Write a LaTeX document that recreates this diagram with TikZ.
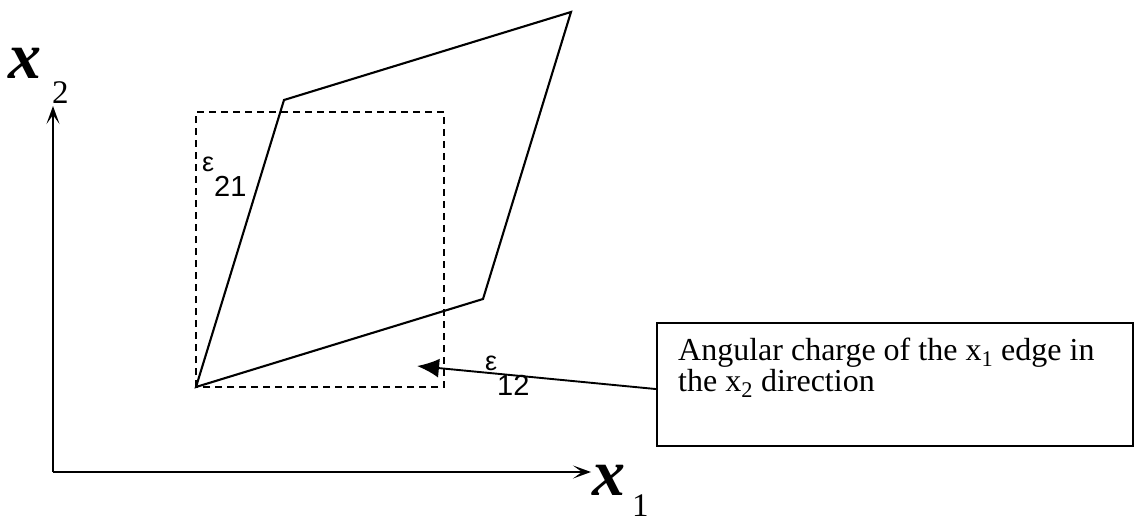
\documentclass[tikz,border=0pt]{standalone}
\usepackage{fontspec}
\setmainfont{Liberation Serif}
\newfontfamily\epsfont{Liberation Sans}
\usetikzlibrary{arrows.meta}
\begin{document}
\begin{tikzpicture}[x=1pt,y=-1pt,
  edge/.style={line width=2.1pt, line join=miter},
  dashbox/.style={line width=2.1pt, dash pattern=on 7pt off 5pt},
  axis/.style={line width=2.1pt,-{Stealth[length=18pt,width=13pt,inset=9pt]}},
  pointer/.style={line width=1.9pt,-{Latex[length=22pt,width=19pt]}},
  axlabel/.style={inner sep=0pt, anchor=base west, font=\fontsize{66}{66}\selectfont\bfseries\itshape},
  axsub/.style={inner sep=0pt, anchor=base west, font=\fontsize{33}{33}\selectfont},
  epslabel/.style={inner sep=0pt, anchor=base west, font=\epsfont},
  notebox/.style={draw, line width=2.1pt, minimum width=476pt, minimum height=123pt, inner sep=0pt, anchor=north west},
  notetext/.style={inner sep=0pt, anchor=north west, align=left, font=\fontsize{32}{31}\selectfont}
]
\useasboundingbox (0,0) rectangle (1139,521);
% axes
\coordinate (O) at (53,472);
\coordinate (ytip) at (53,106);
\coordinate (xtip) at (591,472);
\draw[axis] (O) -- (ytip);
\draw[axis] (O) -- (xtip);
\node[axlabel] (x2) at (8,79) {x};
\node[axsub] (x2s) at (52,104) {2};
\node[axlabel] (x1) at (592,495) {x};
\node[axsub] (x1s) at (632,516) {1};
% dashed square
\coordinate (A) at (196,387);
\coordinate (Q) at (196,112);
\coordinate (R) at (444,112);
\coordinate (S) at (444,387);
\draw[dashbox] (A) -- (Q) -- (R) -- (S) -- cycle;
% parallelogram
\coordinate (B) at (284,100);
\coordinate (C) at (571,12);
\coordinate (D) at (483,299);
\draw[edge] (A) -- (B) -- (C) -- (D) -- cycle;
% strain labels
\node[epslabel] (e21) at (202,172) {{\fontsize{27}{27}\selectfont ε}\raisebox{-25pt}{\fontsize{29}{29}\selectfont 21}};
\node[epslabel] (e12) at (485,370) {{\fontsize{27}{27}\selectfont ε}\raisebox{-25pt}{\fontsize{29}{29}\selectfont 12}};
% note box
\node[notebox] (box) at (656,322) {};
\node[notetext] (note) at (678,338) {Angular charge of the x\textsubscript{1} edge in\\the x\textsubscript{2} direction};
\coordinate (tip) at (417,366);
\draw[pointer] ([yshift=-4.5pt]box.west) -- (tip);
\end{tikzpicture}
\end{document}
